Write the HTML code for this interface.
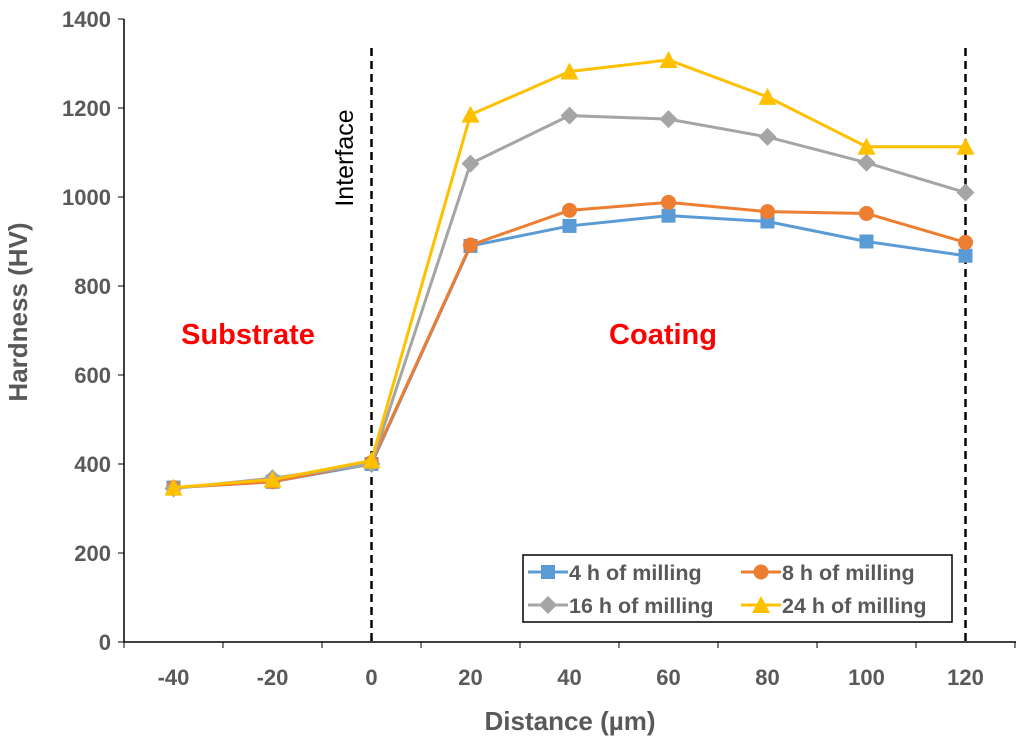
<!DOCTYPE html>
<html><head><meta charset="utf-8"><style>
body{margin:0;background:#fff;}
svg{display:block;font-family:"Liberation Sans",sans-serif;}
</style></head><body>
<svg id="c" width="1024" height="740"></svg>
<script>
const categories=[-40,-20,0,20,40,60,80,100,120];
const s4=[347,360,400,890,935,958,945,900,868];
const s8=[347,360,403,892,970,988,967,963,898];
const s16=[345,368,400,1075,1183,1175,1135,1077,1010];
const s24=[347,365,408,1185,1282,1308,1225,1113,1113];
const yTicks=[0,200,400,600,800,1000,1200,1400];
const xTicks=[-40,-20,0,20,40,60,80,100,120];
const seriesNames=["4 h of milling","8 h of milling","16 h of milling","24 h of milling"];
const NS="http://www.w3.org/2000/svg";
const svg=document.getElementById('c');
const X=v=>124+(v+50)*4.95;
const Y=v=>642-v*623/1400;
function el(t,a,p){const e=document.createElementNS(NS,t);for(const k in a)e.setAttribute(k,a[k]);(p||svg).appendChild(e);return e;}
let ax=el('line',{x1:124,y1:19,x2:124,y2:642,stroke:'#000','stroke-width':1.5});

let bx=el('line',{x1:124,y1:642,x2:1016,y2:642,stroke:'#000','stroke-width':1.5});

yTicks.forEach(v=>{el('line',{x1:118,x2:124,y1:Y(v),y2:Y(v),stroke:'#000'});
 const t=el('text',{x:111,y:Y(v)+8,'text-anchor':'end','font-size':22,'font-weight':'bold',fill:'#595959'});t.textContent=v;
 });
xTicks.forEach(v=>{const t=el('text',{x:X(v),y:685,'text-anchor':'middle','font-size':22,'font-weight':'bold',fill:'#595959'});t.textContent=v;
 });
for(let v=-50;v<=130;v+=20)el('line',{x1:X(v),x2:X(v),y1:642,y2:648,stroke:'#000'});
let xt=el('text',{x:570,y:730,'text-anchor':'middle','font-size':26,'font-weight':'bold',fill:'#595959'});xt.textContent='Distance (µm)';

let yt=el('text',{x:0,y:0,transform:'translate(27,312) rotate(-90)','text-anchor':'middle','font-size':26,'font-weight':'bold',fill:'#595959'});yt.textContent='Hardness (HV)';

[0,120].forEach(v=>{const l=el('line',{x1:X(v),x2:X(v),y1:48,y2:642,stroke:'#000','stroke-width':2.5,'stroke-dasharray':'8,5'});
 });
let it=el('text',{x:0,y:0,transform:'translate(353,158) rotate(-90)','text-anchor':'middle','font-size':25,fill:'#000'});it.textContent='Interface';

let st=el('text',{x:248,y:344,'text-anchor':'middle','font-size':29,'font-weight':'bold',fill:'#ff0000'});st.textContent='Substrate';

let ct=el('text',{x:663,y:344,'text-anchor':'middle','font-size':29,'font-weight':'bold',fill:'#ff0000'});ct.textContent='Coating';

const colors=['#5b9bd5','#ed7d31','#a5a5a5','#ffc000'];
const shapes=['sq','ci','di','tr'];
function marker(shape,x,y,c,g){
 if(shape==='sq')return el('rect',{x:x-7,y:y-7,width:14,height:14,fill:c},g);
 if(shape==='ci')return el('circle',{cx:x,cy:y,r:7.5,fill:c},g);
 if(shape==='di')return el('polygon',{points:`${x},${y-9} ${x+9},${y} ${x},${y+9} ${x-9},${y}`,fill:c},g);
 return el('polygon',{points:`${x},${y-9} ${x+9},${y+8} ${x-9},${y+8}`,fill:c},g);
}
[s4,s8,s16,s24].forEach((s,i)=>{
 const g=el('g',{});
 el('polyline',{points:s.map((v,j)=>X(categories[j])+','+Y(v)).join(' '),fill:'none',stroke:colors[i],'stroke-width':3},g);
 s.forEach((v,j)=>{const m=marker(shapes[i],X(categories[j]),Y(v),colors[i],g);
  });
});
const lg=el('g',{});
el('rect',{x:523,y:555,width:429,height:67,fill:'#fff',stroke:'#000','stroke-width':1.5},lg);
const lp=[[528,572],[741,572],[528,605],[741,605]];
seriesNames.forEach((n,i)=>{const [lx,ly]=lp[i];
 const e=el('g',{},lg);
 el('line',{x1:lx,x2:lx+40,y1:ly,y2:ly,stroke:colors[i],'stroke-width':3},e);
 marker(shapes[i],lx+20,ly,colors[i],e);
 const t=el('text',{x:lx+41,y:ly+8,'font-size':21.5,'font-weight':'bold',fill:'#595959'},e);t.textContent=n;});
</script>
</body></html>
